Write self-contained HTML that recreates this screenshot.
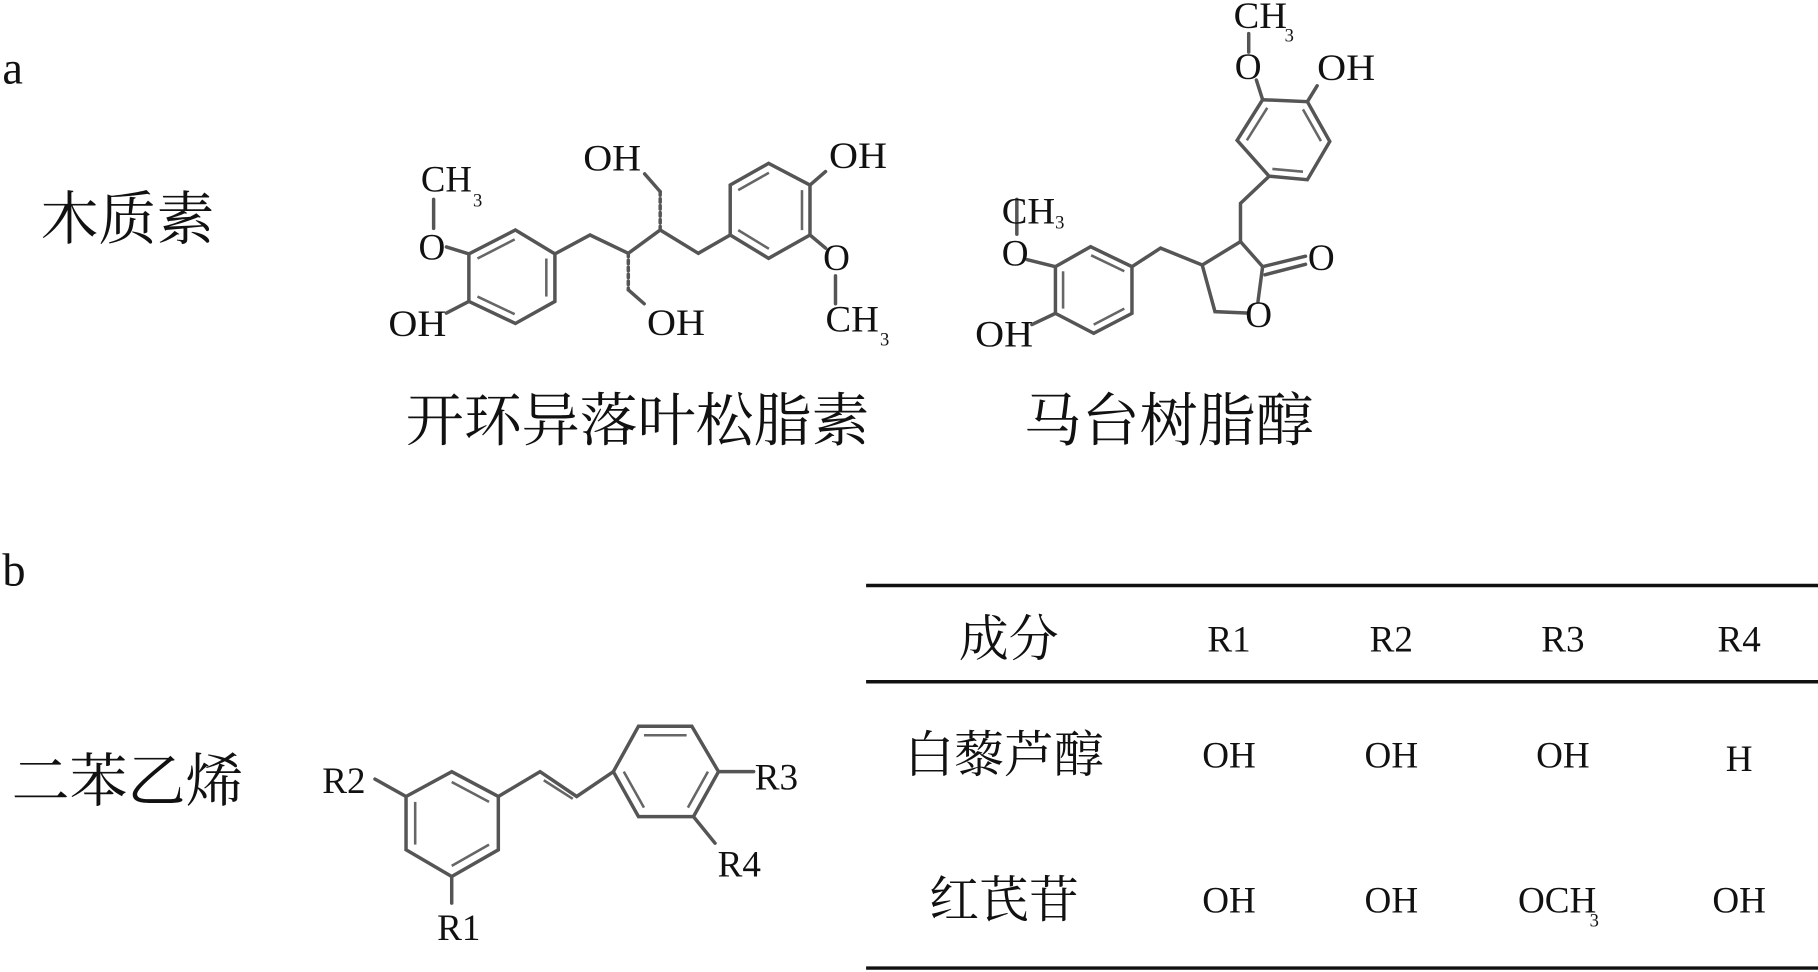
<!DOCTYPE html>
<html><head><meta charset="utf-8"><style>
html,body{margin:0;padding:0;background:#fff;}
svg{display:block;}
.b{stroke:#555;stroke-width:3;fill:none;stroke-linecap:round;}
.i{stroke:#666;stroke-width:2.2;fill:none;}
.t{font-family:"Liberation Serif",serif;fill:#111;}
.c{font-family:"Liberation Serif","Noto Serif CJK SC",serif;fill:#111;}
</style></head><body>
<svg width="1818" height="972" viewBox="0 0 1568 838.4" preserveAspectRatio="none" xmlns="http://www.w3.org/2000/svg">
<text class="t" x="2" y="72" font-size="40">a</text>
<text class="t" x="2" y="505" font-size="40">b</text>
<text class="c" x="35" y="206" font-size="50">木质素</text>
<text class="c" x="10" y="691" font-size="50">二苯乙烯</text>
<text class="c" x="350" y="380" font-size="50">开环异落叶松脂素</text>
<text class="c" x="883" y="380" font-size="50">马台树脂醇</text>

<!-- molecule 1 -->
<polygon class="b" points="444.5,198.4 478.6,219 478.6,260 444.5,279 404.4,260 404.4,219"/>
<line class="i" x1="411.8" y1="223" x2="443.9" y2="206.5"/>
<line class="i" x1="471.2" y1="223" x2="471.2" y2="255.8"/>
<line class="i" x1="443.9" y1="271" x2="411.8" y2="255.8"/>
<line class="b" x1="385" y1="213" x2="404.4" y2="219"/>
<line class="b" x1="374" y1="172" x2="374" y2="197"/>
<line class="b" x1="404.4" y1="260" x2="385" y2="270"/>
<polyline class="b" points="478.6,219 508.9,202.7 541.9,218.5 569.4,198.4 602.3,218.5 629.8,202.7"/>
<line class="b" x1="541.9" y1="218.5" x2="541.9" y2="250" stroke-dasharray="3,3"/>
<line class="b" x1="541.9" y1="250" x2="555.6" y2="262"/>
<line class="b" x1="569.4" y1="198.4" x2="569.4" y2="165.3" stroke-dasharray="3,3"/>
<line class="b" x1="569.4" y1="165.3" x2="556" y2="150"/>
<polygon class="b" points="629.8,159.6 662.9,140.9 698.6,159.6 698.6,202.7 662.9,222.8 629.8,202.7"/>
<line class="i" x1="636.7" y1="164" x2="663.2" y2="149"/>
<line class="i" x1="691.7" y1="164" x2="691.7" y2="198.5"/>
<line class="i" x1="636.7" y1="198.5" x2="663.2" y2="214.6"/>
<line class="b" x1="698.6" y1="159.6" x2="712" y2="148"/>
<line class="b" x1="698.6" y1="202.7" x2="712" y2="214"/>
<line class="b" x1="720.6" y1="238" x2="720.6" y2="262"/>
<text class="t" x="363" y="165" font-size="32" textLength="44" lengthAdjust="spacingAndGlyphs">CH</text>
<text class="t" x="408" y="178" font-size="16">3</text>
<text class="t" x="361" y="224" font-size="32">O</text>
<text class="t" x="335" y="290" font-size="32" textLength="50" lengthAdjust="spacingAndGlyphs">OH</text>
<text class="t" x="503" y="147" font-size="32" textLength="50" lengthAdjust="spacingAndGlyphs">OH</text>
<text class="t" x="558" y="289" font-size="32" textLength="50" lengthAdjust="spacingAndGlyphs">OH</text>
<text class="t" x="715" y="145" font-size="32" textLength="50" lengthAdjust="spacingAndGlyphs">OH</text>
<text class="t" x="710" y="233" font-size="32">O</text>
<text class="t" x="712" y="286" font-size="32" textLength="46" lengthAdjust="spacingAndGlyphs">CH</text>
<text class="t" x="759" y="298" font-size="16">3</text>

<!-- molecule 2 -->
<polygon class="b" points="1089,86 1127.6,87.7 1146.9,122 1127.6,155 1094.6,152 1067,121"/>
<line class="i" x1="1093" y1="93" x2="1075.4" y2="121"/>
<line class="i" x1="1123.8" y1="94.3" x2="1139.3" y2="121.7"/>
<line class="i" x1="1123.8" y1="148.1" x2="1097.4" y2="145.7"/>
<line class="b" x1="1083.6" y1="69" x2="1089" y2="86"/>
<line class="b" x1="1077" y1="29" x2="1077" y2="45"/>
<line class="b" x1="1127.6" y1="87.7" x2="1136" y2="74"/>
<polyline class="b" points="1094.6,152 1069.9,175.4 1069.9,208.4"/>
<polyline class="b" points="1069.9,208.4 1089,230 1085,260"/>
<polyline class="b" points="1075,270 1047.9,268.8 1036.9,228.6 1069.9,208.4"/>
<line class="b" x1="1089" y1="230" x2="1126" y2="221"/>
<line class="b" x1="1091" y1="237" x2="1126" y2="228"/>
<polyline class="b" points="1036.9,228.6 1001,214 976.3,230"/>
<polygon class="b" points="940.6,212.8 976.3,230 976.3,270.3 943.3,287.5 910.3,270.3 910.3,230"/>
<line class="i" x1="941.1" y1="220.2" x2="969.7" y2="234"/>
<line class="i" x1="969.7" y1="266.2" x2="943.3" y2="280"/>
<line class="i" x1="916.9" y1="266.2" x2="916.9" y2="234"/>
<line class="b" x1="886" y1="224" x2="910.3" y2="230"/>
<line class="b" x1="877" y1="172" x2="877" y2="202"/>
<line class="b" x1="910.3" y1="270.3" x2="890" y2="280"/>
<text class="t" x="1064" y="24" font-size="32" textLength="46" lengthAdjust="spacingAndGlyphs">CH</text>
<text class="t" x="1108" y="36" font-size="16">3</text>
<text class="t" x="1065" y="68" font-size="32">O</text>
<text class="t" x="1136" y="69" font-size="32" textLength="50" lengthAdjust="spacingAndGlyphs">OH</text>
<text class="t" x="1128" y="233" font-size="32">O</text>
<text class="t" x="1074" y="282" font-size="32">O</text>
<text class="t" x="864" y="193" font-size="32" textLength="46" lengthAdjust="spacingAndGlyphs">CH</text>
<text class="t" x="910" y="197" font-size="16">3</text>
<text class="t" x="864" y="229" font-size="32">O</text>
<text class="t" x="841" y="299" font-size="32" textLength="50" lengthAdjust="spacingAndGlyphs">OH</text>

<!-- stilbene -->
<polygon class="b" points="389.6,665.6 429.8,687 429.8,733 389.6,756 350.2,733 350.2,687"/>
<line class="i" x1="389.6" y1="674.5" x2="421.8" y2="691.7"/>
<line class="i" x1="358.1" y1="691.7" x2="358.1" y2="728.5"/>
<line class="i" x1="389.6" y1="746.9" x2="421.8" y2="728.5"/>
<line class="b" x1="350.2" y1="687" x2="323.4" y2="672"/>
<line class="b" x1="389.6" y1="756" x2="389.6" y2="779"/>
<polyline class="b" points="429.8,687 465.8,665.6 497.4,687 529,665.6"/>
<line class="i" x1="469" y1="673" x2="494" y2="689"/>
<polygon class="b" points="550.7,626.4 596.7,626.4 619.7,665.6 598.1,704.4 550.7,704.4 529,665.6"/>
<line class="i" x1="555.4" y1="634.2" x2="592.2" y2="634.2"/>
<line class="i" x1="610.6" y1="665.6" x2="593.3" y2="696.6"/>
<line class="i" x1="555.4" y1="696.6" x2="538" y2="665.6"/>
<line class="b" x1="619.7" y1="665.6" x2="650" y2="665.6"/>
<line class="b" x1="598.1" y1="704.4" x2="616.7" y2="727.3"/>
<text class="t" x="278" y="684" font-size="32">R2</text>
<text class="t" x="377" y="811" font-size="32">R1</text>
<text class="t" x="651" y="681" font-size="32">R3</text>
<text class="t" x="619" y="756" font-size="32">R4</text>

<!-- table -->
<line x1="747" y1="505" x2="1568" y2="505" stroke="#111" stroke-width="3"/>
<line x1="747" y1="588" x2="1568" y2="588" stroke="#111" stroke-width="3"/>
<line x1="747" y1="835" x2="1568" y2="835" stroke="#111" stroke-width="3"/>
<g class="c" font-size="43" text-anchor="middle">
<text x="870" y="566">成分</text>
<text x="866" y="666">白藜芦醇</text>
<text x="866" y="791">红芪苷</text>
</g>
<g class="t" font-size="32" text-anchor="middle">
<text x="1060" y="562">R1</text><text x="1200" y="562">R2</text><text x="1348" y="562">R3</text><text x="1500" y="562">R4</text>
<text x="1060" y="662">OH</text><text x="1200" y="662">OH</text><text x="1348" y="662">OH</text><text x="1500" y="665">H</text>
<text x="1060" y="787">OH</text><text x="1200" y="787">OH</text><text x="1343" y="787">OCH</text><text x="1500" y="787">OH</text>
</g>
<text class="t" x="1371" y="799" font-size="16">3</text>
</svg>
</body></html>
